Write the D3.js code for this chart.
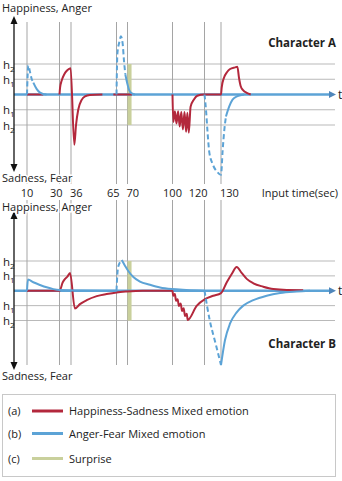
<!DOCTYPE html>
<html>
<head>
<meta charset="utf-8">
<script src="https://cdn.jsdelivr.net/npm/d3@7"></script>
<style>
    body { margin: 0; background: #fff; }
    text { font-family: "Open Sans", sans-serif; fill: #222; }
</style>
</head>
<body>
<div id="chart"></div>
<script>
// input time ticks (sec) and emotion levels
const timeTicks = [10, 30, 36, 65, 70, 100, 120, 130];
const levels = [2, 1, -1, -2];
const levelNames = ["2", "1", "1", "2"];
const surpriseSpan = [70, 72.7];

// Character A: [time, level] segments
const aRed = [
    [[10, 0], [20, 0]],
    [[30, 0], [30.3, 0.45], [31.1, 0.9], [32.5, 1.33], [33.8, 1.56], [35, 1.68], [35.8, 1.72], [38.1, -3.3],
     [39.2, -2.0], [40.6, -1.0], [42.8, -0.35], [44.9, -0.12], [48, -0.03], [56, 0]],
    [[63, 0], [73, 0]],
    [[100, 0], [100.5, -1.8], [101.5, -1.1], [102.5, -1.9], [103.5, -1.1], [104.5, -2.1], [105.5, -1.15],
     [106.5, -2.3], [107.5, -1.15], [108.5, -2.45], [109.3, -1.2], [110.2, -2.5], [111.3, -0.8], [113.4, -0.33],
     [115.5, -0.08], [119.6, 0], [130, 0], [130.4, 0.44], [131.8, 1.1], [133.5, 1.44], [135.5, 1.67],
     [138.5, 1.78], [139.9, 1.82], [140.9, 1.1], [141.9, 0.56], [143.5, 0.27], [145.6, 0.11], [148, 0]]
];
const aBlueDash = [
    [[10, 0], [10.8, 1.9], [11.8, 1.5], [12.8, 1.05], [13.9, 0.78]],
    [[65, 0], [65.4, 2.67], [66.3, 3.44], [67, 3.82], [67.8, 3.33], [68.4, 2.22], [69, 1.33]],
    [[120, 0], [120.9, -1.0], [121.9, -2.55], [122.9, -3.78], [124.9, -4.55], [127.9, -5.1], [130, -5.27],
     [131, -3.67], [132, -2.33], [133, -1.44]]
];
const aBlueSolid = [
    [[13.9, 0.78], [16, 0.35], [18, 0.12], [20, 0.03], [22, 0]],
    [[69, 1.33], [70, 0.67], [71.1, 0.29], [72.9, 0.07], [75, 0]],
    [[133, -1.44], [135, -0.78], [137, -0.33], [140, -0.11], [144, 0]]
];

// Character B
const bRed = [
    [[10, 0], [30, 0], [31.7, 0.57], [32.9, 0.8], [34.1, 0.95], [35.5, 1.2], [38.5, -1.2], [41.7, -0.9],
     [46, -0.63], [52.4, -0.36], [58.7, -0.22], [65, -0.11], [69.6, -0.05], [80, 0], [100, 0],
     [100.4, -0.34], [101.5, -0.22], [102.2, -0.68], [103.2, -0.57], [104, -1.02], [105.1, -0.86],
     [106, -1.36], [107, -1.18], [107.8, -1.7], [108.9, -1.54], [109.5, -1.97], [115.1, -1.02],
     [120.3, -0.57], [125.3, -0.34], [130, -0.16], [133.5, 0.57], [136.5, 1.13], [139.5, 1.59],
     [142.5, 1.2], [145.6, 0.8], [149.6, 0.5], [155.6, 0.27], [161.7, 0.11], [169.8, 0.05], [179.8, 0.04]]
];
const bBlueDash = [
    [[65, 0], [65.4, 1.13], [65.8, 1.63], [67.4, 2.06]],
    [[120, 0], [123.2, -2.0], [126.2, -3.33], [128.2, -4.2], [130, -5.0]]
];
const bBlueSolid = [
    [[10, 0], [10.6, 0.75], [13.9, 0.57], [18, 0.39], [22.1, 0.23], [26.2, 0.11], [29.9, 0.05], [40, 0.02], [65, 0]],
    [[67.4, 2.06], [68.9, 1.67], [70.5, 1.33], [73.9, 0.93], [78.3, 0.62], [85, 0.4], [91.7, 0.22],
     [99.5, 0.11], [108.6, 0.05], [120, 0]],
    [[130, -5.0], [132.4, -3.33], [135.5, -2.2], [139.5, -1.45], [143.5, -1.0], [149.6, -0.63],
     [157.7, -0.33], [165.8, -0.15], [175.9, -0.05], [184, 0]]
];

const legendKeys = ["(a)", "(b)", "(c)"];
const legendLabels = ["Happiness-Sadness Mixed emotion", "Anger-Fear Mixed emotion", "Surprise"];

const RED = "#b3283c", BLUE = "#5ca3d6", OLIVE = "#c9d09c";

const svg = d3.select("#chart").append("svg")
    .attr("width", 342)
    .attr("height", 481);

// time scale follows the hand-placed vertical lines of the figure
const x = d3.scaleLinear()
    .domain(timeTicks)
    .range([27, 59.5, 71, 116.5, 127.5, 172.5, 204.5, 221]);

function halo(sel) {
    return sel.attr("stroke", "#fff").attr("stroke-width", 3).attr("paint-order", "stroke");
}

function drawPanel(p) {
    let g = svg.append("g");
    let y = d3.scaleLinear().domain([-2, 2]).range(p.yRange);

    // level grid
    g.selectAll(".hgrid").data(levels).join("line")
        .attr("x1", 14).attr("x2", 335)
        .attr("y1", d => y(d)).attr("y2", d => y(d))
        .attr("stroke", "#b9b9b9").attr("stroke-width", 1);

    // time markers
    g.selectAll(".vgrid").data(timeTicks).join("line")
        .attr("x1", d => x(d)).attr("x2", d => x(d))
        .attr("y1", p.vTop).attr("y2", p.vBottom)
        .attr("stroke", "#a5a5a5").attr("stroke-width", 1);

    // level labels h2 / h1
    let lab = g.selectAll(".lvl").data(levels).join("text")
        .attr("x", 3)
        .attr("y", d => y(d) + 4.5)
        .attr("font-size", 11.5);
    lab.append("tspan").text("h");
    lab.append("tspan").attr("font-size", 8).attr("dy", 3).text((d, i) => levelNames[i]);

    // surprise
    g.append("rect")
        .attr("x", x(surpriseSpan[0]))
        .attr("width", x(surpriseSpan[1]) - x(surpriseSpan[0]))
        .attr("y", y(2))
        .attr("height", y(-2) - y(2))
        .attr("fill", OLIVE);

    // t axis
    g.append("line")
        .attr("x1", 14).attr("x2", 331)
        .attr("y1", y(0)).attr("y2", y(0))
        .attr("stroke", BLUE).attr("stroke-width", 2.5);
    g.append("path")
        .attr("d", `M336,${y(0)} l-7,-3.5 v7 z`)
        .attr("fill", "#4f86ba");
    g.append("text").text("t")
        .attr("x", 338).attr("y", y(0) + 4)
        .attr("font-size", 12);

    let line = d3.line()
        .x(d => x(d[0]))
        .y(d => y(d[1]))
        .curve(d3.curveMonotoneX);

    g.selectAll(".red").data(p.red).join("path")
        .attr("d", line)
        .attr("fill", "none").attr("stroke", RED).attr("stroke-width", 2);
    g.selectAll(".blue-solid").data(p.blueSolid).join("path")
        .attr("d", line)
        .attr("fill", "none").attr("stroke", BLUE).attr("stroke-width", 2);
    g.selectAll(".blue-dash").data(p.blueDash).join("path")
        .attr("d", line)
        .attr("fill", "none").attr("stroke", BLUE).attr("stroke-width", 2)
        .attr("stroke-dasharray", "5,3");

    // vertical emotion axis
    g.append("line")
        .attr("x1", 14).attr("x2", 14)
        .attr("y1", p.axTop + 6).attr("y2", p.axBottom - 6)
        .attr("stroke", "#111").attr("stroke-width", 1.3);
    g.append("path").attr("d", `M14,${p.axTop} l-3.5,8 h7 z`).attr("fill", "#111");
    g.append("path").attr("d", `M14,${p.axBottom} l-3.5,-8 h7 z`).attr("fill", "#111");

    halo(g.append("text").text("Happiness, Anger")
        .attr("x", 2).attr("y", p.topLabelY).attr("font-size", 11));
    halo(g.append("text").text("Sadness, Fear")
        .attr("x", 2).attr("y", p.bottomLabelY).attr("font-size", 11));

    g.append("text").text(p.title)
        .attr("x", 336).attr("y", p.titleY)
        .attr("text-anchor", "end")
        .attr("font-size", 11.5).attr("font-weight", "bold");
}

drawPanel({
    yRange: [125, 64], vTop: 22, vBottom: 184, axTop: 16, axBottom: 172,
    topLabelY: 12, bottomLabelY: 182, title: "Character A", titleY: 47,
    red: aRed, blueDash: aBlueDash, blueSolid: aBlueSolid
});

// time tick labels between the panels; close pairs are pushed apart
function tickSide(d, i) {
    if (i < timeTicks.length - 1 && timeTicks[i + 1] - d <= 10) return "end";
    if (i > 0 && d - timeTicks[i - 1] <= 10) return "start";
    return "middle";
}
svg.selectAll(".tick-label").data(timeTicks).join("text")
    .attr("x", (d, i) => x(d) + ({end: 3, start: -1, middle: 0})[tickSide(d, i)])
    .attr("y", 197)
    .attr("text-anchor", (d, i) => tickSide(d, i))
    .attr("font-size", 11)
    .text(d => d);
svg.append("text").text("Input time(sec)")
    .attr("x", 338).attr("y", 197)
    .attr("text-anchor", "end")
    .attr("font-size", 11);

drawPanel({
    yRange: [320.5, 261], vTop: 200, vBottom: 365, axTop: 211, axBottom: 370,
    topLabelY: 211, bottomLabelY: 380, title: "Character B", titleY: 348,
    red: bRed, blueDash: bBlueDash, blueSolid: bBlueSolid
});

// Legend
svg.append("rect")
    .attr("x", 2.5).attr("y", 394.5)
    .attr("width", 333).attr("height", 82)
    .attr("fill", "none").attr("stroke", "#c8c8c8");
let legendY = d3.scaleOrdinal().domain(legendKeys).range([411, 433.5, 458.5]);
let legendColor = d3.scaleOrdinal().domain(legendKeys).range([RED, BLUE, OLIVE]);
let rows = svg.selectAll(".legend-row").data(legendKeys).join("g")
    .attr("transform", d => `translate(0,${legendY(d)})`);
rows.append("text").text(d => d)
    .attr("x", 8).attr("y", 4).attr("font-size", 11);
rows.append("line")
    .attr("x1", 32).attr("x2", 63)
    .attr("stroke", d => legendColor(d)).attr("stroke-width", 3);
rows.append("text").text((d, i) => legendLabels[i])
    .attr("x", 69).attr("y", 4).attr("font-size", 11);
</script>
</body>
</html>
